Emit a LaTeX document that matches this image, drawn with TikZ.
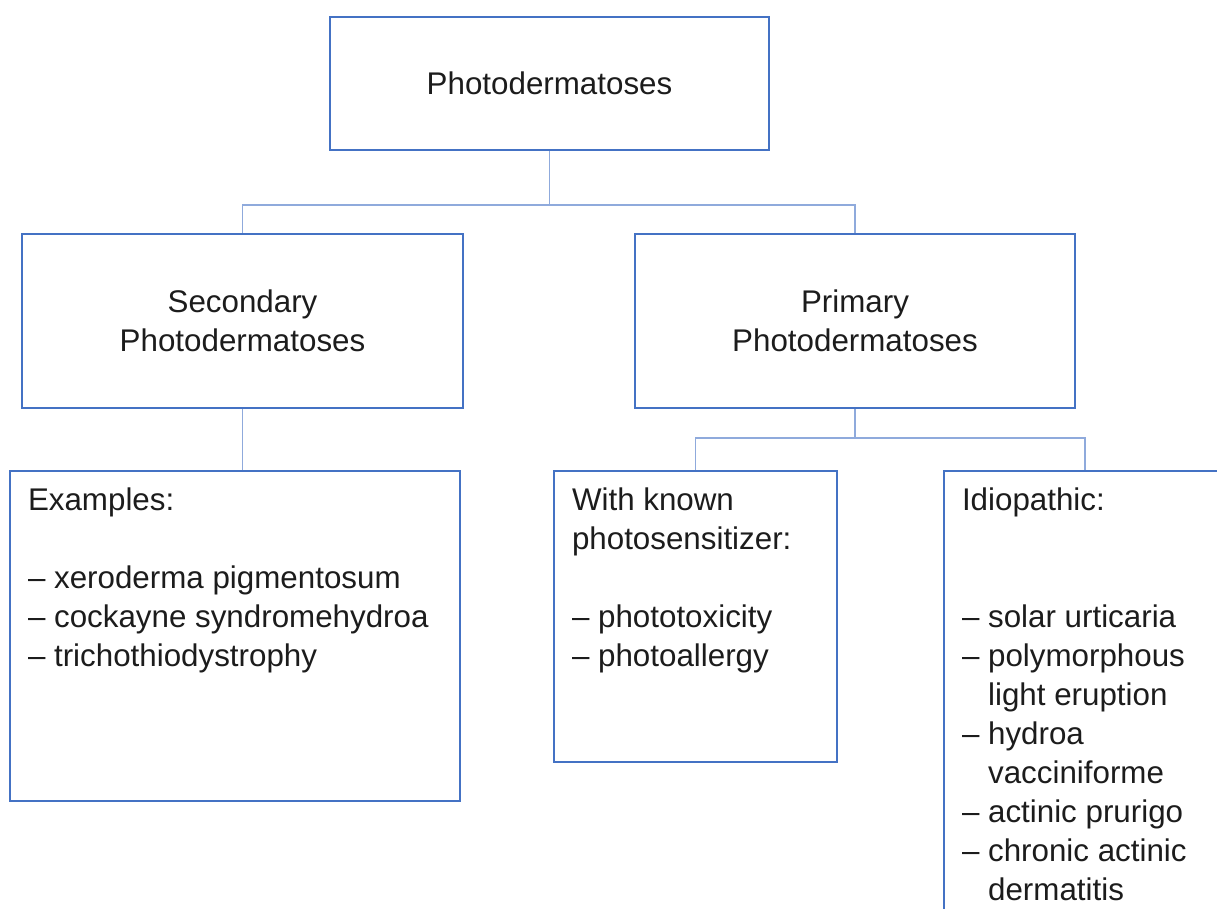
\documentclass[tikz,border=0pt]{standalone}
\usepackage{fontspec}
\setmainfont{Liberation Sans}
\definecolor{boxblue}{HTML}{4472C4}
\definecolor{linkblue}{HTML}{8FAADC}
\definecolor{inktext}{HTML}{1C1C1C}
\newcommand{\listtext}[3]{\parbox[c][#2][t]{#1}{\raggedright\leftskip=13.5pt\vspace*{9.5pt}#3}}
\newcommand{\hang}{\hspace*{19.6pt}}
\tikzset{
  box/.style={draw=boxblue, line width=1.5pt, rectangle, text=inktext, align=center, inner sep=0pt},
  link/.style={draw=linkblue, line width=1pt},
}
\begin{document}
\begin{tikzpicture}[x=0.75pt, y=-0.75pt, font=\fontsize{23.5}{29.25}\selectfont]
    \useasboundingbox (0,0) rectangle (1217,908);
    \clip (0,0) rectangle (1217,908);

    % top level
    \node[box, minimum width=329.25pt, minimum height=99.75pt] (top) at (549.5,83.5) {Photodermatoses};

    % second level
    \node[box, minimum width=330.75pt, minimum height=130.5pt] (sec) at (242.5,321) {Secondary\\Photodermatoses};
    \node[box, minimum width=330pt, minimum height=130.5pt] (prim) at (855,321) {Primary\\Photodermatoses};

    % third level
    \node[box] (ex) at (235,636) {\listtext{337.5pt}{247.5pt}{\strut Examples:\\[29.25pt]
        – xeroderma pigmentosum\\
        – cockayne syndromehydroa\\
        – trichothiodystrophy}};
    \node[box] (known) at (695.5,616.5) {\listtext{212.25pt}{218.25pt}{\strut With known\\
        photosensitizer:\\[29.25pt]
        – phototoxicity\\
        – photoallergy}};
    \node[box] (idio) at (1085,700) {\listtext{211.5pt}{343.5pt}{\strut Idiopathic:\\[58.5pt]
        – solar urticaria\\
        – polymorphous\\
        \hang light eruption\\
        – hydroa\\
        \hang vacciniforme\\
        – actinic prurigo\\
        – chronic actinic\\
        \hang dermatitis}};

    % connectors
    \coordinate (j1) at (549.5,205);
    \coordinate (j2) at (855,438);
    \draw[link] (top.south) -- (j1) -| (sec.north);
    \draw[link] (j1) -| (prim.north);
    \draw[link] (sec.south) -- (sec.south |- ex.north);
    \draw[link] (prim.south) -- (j2) -| (known.north);
    \draw[link] (j2) -| (idio.north);
\end{tikzpicture}
\end{document}
